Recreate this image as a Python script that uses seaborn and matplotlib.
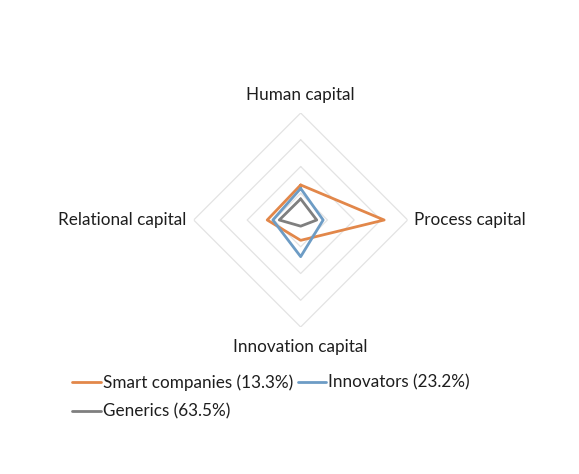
import numpy as np
import pandas as pd
import matplotlib
matplotlib.use("Agg")
import matplotlib.pyplot as plt
import seaborn as sns
from matplotlib.lines import Line2D

# Axes of the radar (clockwise from top)
dimensions = ["Human capital", "Process capital", "Innovation capital", "Relational capital"]

# Cluster profiles
smart = [1.31, 3.12, 0.76, 1.25]
innovators = [1.18, 0.84, 1.37, 1.04]
generics = [0.79, 0.6, 0.23, 0.8]
series_names = ["Smart companies (13.3%)", "Innovators (23.2%)", "Generics (63.5%)"]
grid_levels = [1, 2, 3, 4]

colors = ["#E2874A", "#6D9CC5", "#7F7F7F"]
text_color = "#1E1E1E"

sns.set_theme(style="white")
plt.rcParams["font.family"] = ["Lato", "DejaVu Sans"]

fig = plt.figure(figsize=(5.79, 4.74), dpi=100)
ax = fig.add_axes([0.3345, 0.3101, 0.3696, 0.4515], projection="polar")
ax.set_theta_offset(np.pi / 2)
ax.set_theta_direction(-1)

angles = np.linspace(0, 2 * np.pi, len(dimensions), endpoint=False)
closed_angles = np.append(angles, angles[0])

# diamond gridlines
for lvl in grid_levels:
    ax.plot(closed_angles, [lvl] * len(closed_angles), color="#E3E3E3", lw=0.9, zorder=1)

rows = []
for name, vals in zip(series_names, [smart, innovators, generics]):
    for a, v in zip(closed_angles, vals + vals[:1]):
        rows.append({"series": name, "angle": a, "value": v})
df = pd.DataFrame(rows)

sns.lineplot(data=df, x="angle", y="value", hue="series", palette=colors,
             sort=False, estimator=None, units="series", lw=2, ax=ax, legend=False, zorder=3)

ax.set_ylim(0, 4)
ax.set_xticks([])
ax.set_yticks([])
ax.grid(False)
ax.spines["polar"].set_visible(False)
ax.set_xlabel("")
ax.set_ylabel("")

label_r = [4.67, 4.23, 4.75, 4.29]
label_ha = ["center", "left", "center", "right"]
for a, txt, r, ha in zip(angles, dimensions, label_r, label_ha):
    ax.text(a, r, txt, ha=ha, va="center", fontsize=12.3, color=text_color)

handles = [Line2D([0], [0], color=c, lw=2) for c in colors]
order = [0, 2, 1]
fig.legend([handles[i] for i in order], [series_names[i] for i in order],
           loc="upper left", bbox_to_anchor=(0.125, 0.211), ncol=2, frameon=False,
           fontsize=12.3, handlelength=1.65, handletextpad=0.12, columnspacing=0.3,
           labelspacing=0.76, borderaxespad=0, borderpad=0, labelcolor=text_color)

fig.savefig("out.png", dpi=100)
